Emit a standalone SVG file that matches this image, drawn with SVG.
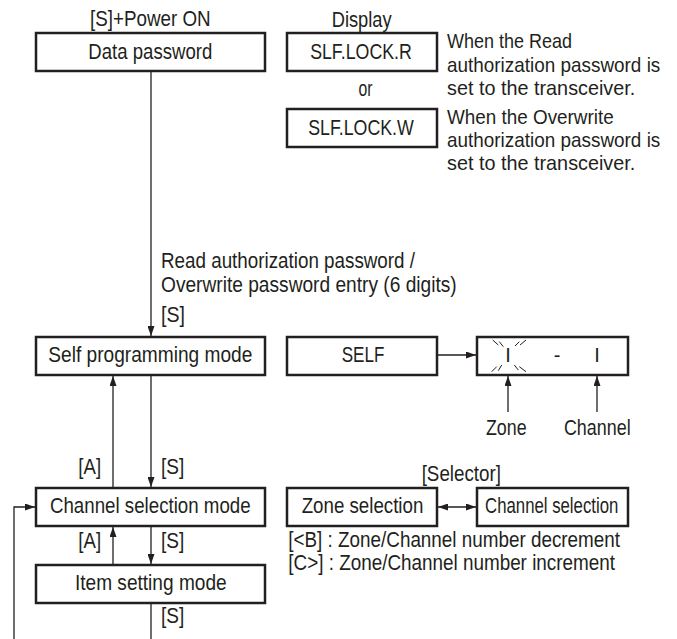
<svg xmlns="http://www.w3.org/2000/svg" width="677" height="639" viewBox="0 0 677 639">
<style>
text{font-family:"Liberation Sans Narrow","Liberation Sans",Arial,sans-serif;font-size:22.5px;fill:#231f20}
.c{text-anchor:middle}
.r{font-size:20.3px}
.k{font-size:21.5px}
.box{fill:#fff;stroke:#231f20;stroke-width:2.5}
.ln{fill:none;stroke:#231f20;stroke-width:1.3}
.bl{fill:none;stroke:#231f20;stroke-width:1}
</style>
<defs>
<marker id="ah" markerUnits="userSpaceOnUse" markerWidth="11" markerHeight="7" refX="10" refY="3.5" orient="auto-start-reverse" viewBox="0 0 11 7">
<path d="M0,0 L10,3.5 L0,7 z" fill="#231f20"/>
</marker>
</defs>
<rect width="677" height="639" fill="#fff"/>
<g id="data-password"><rect class="box" x="36" y="33" width="229" height="38"/><text class="c" x="150.3" y="59" textLength="124" lengthAdjust="spacingAndGlyphs">Data password</text></g>
<g id="slf-lock-r"><rect class="box" x="287" y="33" width="150" height="38"/><text class="c" x="361" y="59" textLength="101.7" lengthAdjust="spacingAndGlyphs">SLF.LOCK.R</text></g>
<g id="slf-lock-w"><rect class="box" x="287" y="109" width="150" height="38"/><text class="c" x="361" y="135" textLength="105.7" lengthAdjust="spacingAndGlyphs">SLF.LOCK.W</text></g>
<g id="self-programming"><rect class="box" x="36" y="337" width="229" height="38"/><text class="c" x="150.3" y="362" textLength="204" lengthAdjust="spacingAndGlyphs">Self programming mode</text></g>
<g id="self-display"><rect class="box" x="287" y="337" width="150" height="38"/><text class="c" x="363" y="362" textLength="42.7" lengthAdjust="spacingAndGlyphs">SELF</text></g>
<g id="zone-channel-display"><rect class="box" x="477" y="337" width="151" height="38"/>
<text class="c" x="508" y="362" style="font-size:20px">I</text>
<text class="c" x="557" y="362" style="font-size:20px">-</text>
<text class="c" x="597" y="362" style="font-size:20px">I</text>
<path class="bl" d="M492.7,340 L498.3,345 M499.3,341.7 L503.3,346.7 M515,346 L519.3,341.7 M520,345 L526,340 M491.7,371.7 L496.7,366.7 M498.3,370.7 L501.7,365 M514.3,365 L518.3,370 M519.3,366.7 L526,371.7"/>
</g>
<g id="channel-selection-mode"><rect class="box" x="36" y="488" width="229" height="38"/><text class="c" x="150.3" y="513" textLength="200.7" lengthAdjust="spacingAndGlyphs">Channel selection mode</text></g>
<g id="zone-selection"><rect class="box" x="287" y="488" width="150" height="38"/><text class="c" x="362.5" y="513" textLength="121.7" lengthAdjust="spacingAndGlyphs">Zone selection</text></g>
<g id="channel-selection"><rect class="box" x="477" y="488" width="151" height="38"/><text class="c" x="551.7" y="513" textLength="133.3" lengthAdjust="spacingAndGlyphs">Channel selection</text></g>
<g id="item-setting-mode"><rect class="box" x="36" y="565" width="229" height="38"/><text class="c" x="150.8" y="590" textLength="151.7" lengthAdjust="spacingAndGlyphs">Item setting mode</text></g>
<g id="connectors">
<line class="ln" x1="151" y1="72" x2="151" y2="336" marker-end="url(#ah)"/>
<line class="ln" x1="151" y1="376" x2="151" y2="487" marker-end="url(#ah)"/>
<line class="ln" x1="113" y1="487" x2="113" y2="376" marker-end="url(#ah)"/>
<line class="ln" x1="151" y1="527" x2="151" y2="564" marker-end="url(#ah)"/>
<line class="ln" x1="113" y1="564" x2="113" y2="527" marker-end="url(#ah)"/>
<line class="ln" x1="151" y1="604" x2="151" y2="639"/>
<path class="ln" d="M14,639 V507 H35" marker-end="url(#ah)"/>
<line class="ln" x1="438" y1="355" x2="476" y2="355" marker-end="url(#ah)"/>
<line class="ln" x1="508" y1="412" x2="508" y2="376" marker-end="url(#ah)"/>
<line class="ln" x1="597" y1="412" x2="597" y2="376" marker-end="url(#ah)"/>
<line class="ln" x1="438" y1="507" x2="476" y2="507" marker-start="url(#ah)" marker-end="url(#ah)"/>
</g>
<g id="labels">
<text class="c" x="150.3" y="26" textLength="120.7" lengthAdjust="spacingAndGlyphs">[S]+Power ON</text>
<text class="c" x="361.7" y="27" textLength="60" lengthAdjust="spacingAndGlyphs">Display</text>
<text class="c" x="365.5" y="96" textLength="14" lengthAdjust="spacingAndGlyphs">or</text>
<text class="r" x="447" y="48" textLength="125" lengthAdjust="spacingAndGlyphs">When the Read</text>
<text class="r" x="447" y="71.5" textLength="213.3" lengthAdjust="spacingAndGlyphs">authorization password is</text>
<text class="r" x="447" y="95" textLength="188.3" lengthAdjust="spacingAndGlyphs">set to the transceiver.</text>
<text class="r" x="447" y="124" textLength="166.7" lengthAdjust="spacingAndGlyphs">When the Overwrite</text>
<text class="r" x="447" y="147" textLength="213.3" lengthAdjust="spacingAndGlyphs">authorization password is</text>
<text class="r" x="447" y="170" textLength="188.3" lengthAdjust="spacingAndGlyphs">set to the transceiver.</text>
<text x="161" y="268" textLength="254" lengthAdjust="spacingAndGlyphs">Read authorization password /</text>
<text x="161" y="292" textLength="295.7" lengthAdjust="spacingAndGlyphs">Overwrite password entry (6 digits)</text>
<text x="161" y="322" textLength="24" lengthAdjust="spacingAndGlyphs">[S]</text>
<text class="c" x="506.3" y="435" textLength="40.7" lengthAdjust="spacingAndGlyphs">Zone</text>
<text class="c" x="597.3" y="435" textLength="66.7" lengthAdjust="spacingAndGlyphs">Channel</text>
<text class="c" x="89.7" y="474" textLength="22.7" lengthAdjust="spacingAndGlyphs">[A]</text>
<text x="161" y="474" textLength="23.3" lengthAdjust="spacingAndGlyphs">[S]</text>
<text class="c" x="461.3" y="481" textLength="79.3" lengthAdjust="spacingAndGlyphs">[Selector]</text>
<text class="c" x="89.7" y="548" textLength="22.7" lengthAdjust="spacingAndGlyphs">[A]</text>
<text x="161" y="548" textLength="23.3" lengthAdjust="spacingAndGlyphs">[S]</text>
<text class="k" x="288.3" y="547" textLength="331.7" lengthAdjust="spacingAndGlyphs">[&lt;B] : Zone/Channel number decrement</text>
<text class="k" x="288.3" y="570" textLength="326.7" lengthAdjust="spacingAndGlyphs">[C&gt;] : Zone/Channel number increment</text>
<text x="161" y="623" textLength="23.3" lengthAdjust="spacingAndGlyphs">[S]</text>
</g>
</svg>
